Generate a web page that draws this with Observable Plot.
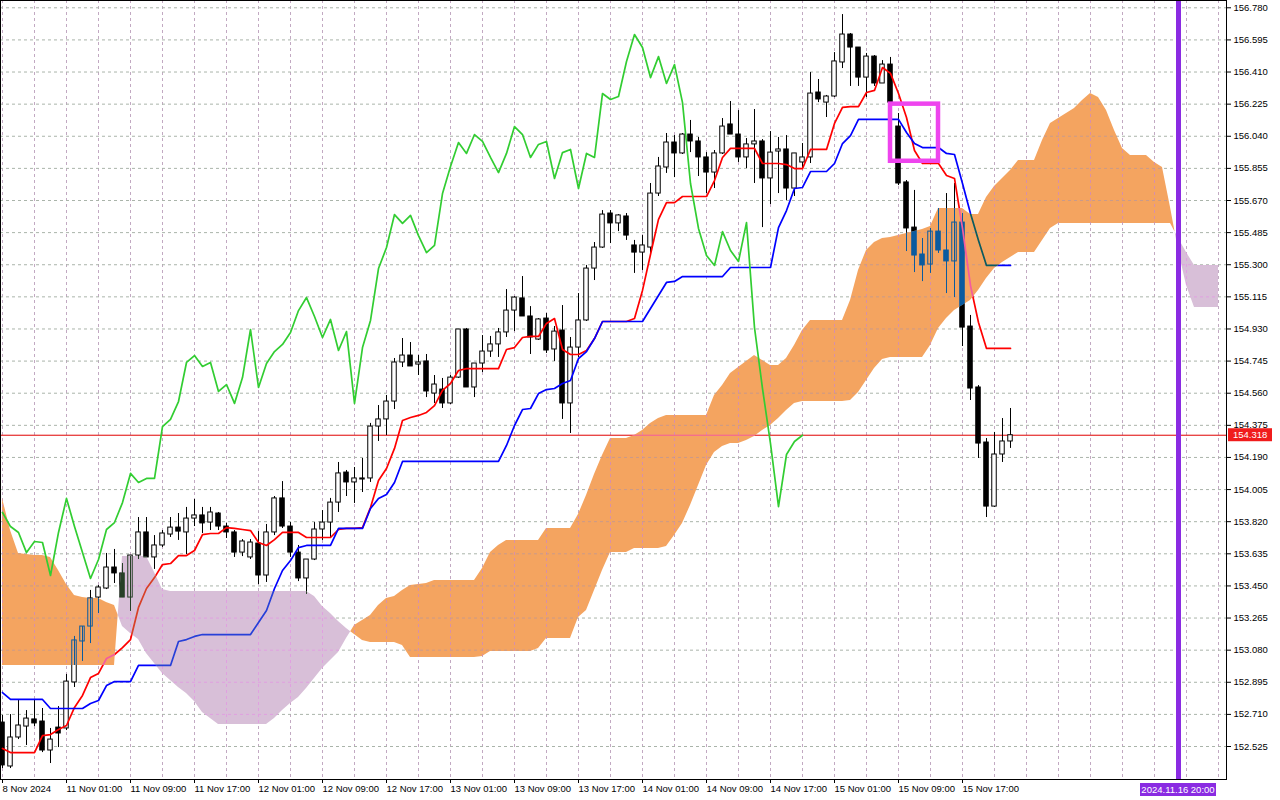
<!DOCTYPE html>
<html><head><meta charset="utf-8">
<script src="https://cdn.jsdelivr.net/npm/d3@7"></script>
<script src="https://cdn.jsdelivr.net/npm/@observablehq/plot@0.6"></script>
<style>
html,body{margin:0;padding:0;background:#fff;}
#chart{width:1280px;height:800px;overflow:hidden;}
</style></head><body><div id="chart"></div>
<script>
// ---- Hourly candles, bar 0 = 8 Nov 2024 17:00 ----
const open=[152.663,152.410,152.577,152.640,152.681,152.669,152.502,152.634,152.629,152.894,
153.130,153.216,153.383,153.435,153.556,153.522,153.383,153.625,153.758,153.614,
153.683,153.746,153.786,153.758,153.838,153.856,153.815,153.867,153.792,153.758,
153.642,153.614,153.694,153.510,153.758,153.954,153.792,153.642,153.493,153.602,
153.775,153.815,153.930,154.103,154.046,154.063,154.069,154.368,154.409,154.512,
154.737,154.777,154.725,154.743,154.558,154.581,154.501,154.650,154.927,154.593,
154.731,154.800,154.841,154.910,155.036,155.106,155.002,154.869,154.990,154.812,
154.921,154.501,154.823,154.979,155.278,155.399,155.595,155.538,155.578,155.411,
155.370,155.399,155.710,155.860,156.004,155.941,156.050,156.010,155.918,155.831,
155.941,156.108,156.050,155.918,155.993,156.010,155.797,155.952,155.964,155.739,
155.889,155.918,156.292,156.234,156.269,156.465,156.626,156.551,156.378,156.499,
156.344,156.453,156.096,155.774,155.514,155.359,155.301,155.491,155.382,155.319,
155.543,154.944,154.593,154.276,153.907,154.207,154.282];
const high=[152.704,152.709,152.790,152.732,152.790,152.744,152.629,152.755,152.940,153.159,
153.216,153.424,153.452,153.637,153.660,153.579,153.625,153.844,153.844,153.740,
153.769,153.844,153.867,153.902,153.948,153.902,153.902,153.873,153.810,153.769,
153.717,153.717,153.763,153.804,153.965,154.051,153.815,153.683,153.602,153.815,
153.884,153.954,154.161,154.115,154.132,154.184,154.386,154.489,154.547,154.760,
154.875,154.852,154.777,154.783,154.662,154.645,154.662,154.927,154.933,154.731,
154.892,154.887,154.933,155.157,155.117,155.232,155.059,154.990,155.019,154.944,
155.065,154.881,155.134,155.296,155.428,155.612,155.612,155.589,155.595,155.440,
155.468,155.768,155.918,156.056,156.044,156.056,156.131,156.033,155.946,155.958,
156.142,156.240,156.188,156.027,156.194,156.021,156.067,156.033,156.044,155.941,
155.998,156.407,156.367,156.275,156.522,156.741,156.632,156.551,156.517,156.505,
156.476,156.494,156.171,155.785,155.728,155.451,155.509,155.624,155.710,155.768,
155.595,155.008,154.604,154.299,154.334,154.414,154.472];
const low=[152.398,152.398,152.565,152.531,152.640,152.490,152.427,152.519,152.617,152.865,
153.015,153.118,153.291,153.429,153.464,153.383,153.303,153.602,153.614,153.545,
153.671,153.729,153.712,153.631,153.792,153.752,153.769,153.769,153.723,153.614,
153.619,153.602,153.458,153.470,153.740,153.781,153.614,153.475,153.401,153.596,
153.712,153.729,153.873,153.965,153.925,153.988,154.046,154.282,154.316,154.466,
154.708,154.714,154.662,154.535,154.501,154.472,154.495,154.645,154.593,154.535,
154.679,154.766,154.766,154.881,154.915,155.002,154.783,154.864,154.789,154.743,
154.409,154.328,154.766,154.973,155.209,155.394,155.422,155.491,155.440,155.250,
155.267,155.365,155.693,155.826,155.802,155.935,155.946,155.808,155.710,155.739,
155.935,156.050,155.889,155.854,155.768,155.514,155.647,155.710,155.670,155.693,
155.854,155.883,156.234,156.148,156.263,156.430,156.327,156.327,156.263,156.327,
156.344,156.234,155.756,155.376,155.255,155.203,155.250,155.365,155.134,155.111,
154.829,154.518,154.184,153.844,153.902,154.161,154.242];
const close=[152.416,152.577,152.646,152.686,152.658,152.502,152.565,152.600,152.899,153.136,
153.216,153.378,153.441,153.556,153.522,153.383,153.625,153.758,153.614,153.683,
153.752,153.786,153.763,153.838,153.856,153.810,153.873,153.792,153.758,153.642,
153.706,153.700,153.510,153.758,153.954,153.792,153.642,153.493,153.602,153.775,
153.815,153.930,154.098,154.046,154.069,154.069,154.368,154.409,154.512,154.737,
154.777,154.714,154.737,154.570,154.610,154.501,154.650,154.927,154.593,154.731,
154.800,154.841,154.910,155.036,155.111,155.002,154.881,154.985,154.806,154.915,
154.501,154.823,154.979,155.278,155.399,155.589,155.538,155.584,155.468,155.370,
155.411,155.710,155.866,156.004,155.941,156.050,156.010,155.918,155.831,155.941,
156.096,156.050,155.918,155.993,156.010,155.797,155.946,155.964,155.739,155.941,
155.918,156.286,156.252,156.269,156.471,156.626,156.551,156.378,156.499,156.344,
156.453,156.234,155.768,155.509,155.353,155.296,155.491,155.382,155.319,155.543,
154.938,154.587,154.270,153.907,154.207,154.282,154.318];

// ---- Ichimoku lines ----
const tenkan=[152.514,152.490,152.490,152.490,152.490,152.588,152.594,152.623,152.646,152.750,
152.819,152.922,152.946,153.032,153.055,153.095,153.141,153.326,153.435,153.498,
153.573,153.579,153.625,153.625,153.654,153.746,153.752,153.752,153.786,153.781,
153.775,153.769,153.700,153.683,153.717,153.758,153.758,153.758,153.729,153.729,
153.729,153.729,153.775,153.781,153.781,153.786,153.902,154.057,154.126,154.242,
154.403,154.420,154.432,154.449,154.489,154.576,154.616,154.691,154.702,154.702,
154.702,154.702,154.702,154.812,154.823,154.881,154.887,154.887,154.962,154.990,
154.812,154.783,154.783,154.806,154.875,154.973,154.973,154.973,154.973,154.990,
155.152,155.359,155.561,155.658,155.658,155.693,155.693,155.693,155.693,155.785,
155.918,155.970,155.970,155.970,155.970,155.883,155.883,155.883,155.877,155.854,
155.854,155.964,155.964,155.964,156.114,156.206,156.211,156.211,156.292,156.304,
156.436,156.402,156.286,156.148,155.958,155.883,155.883,155.883,155.814,155.797,
155.509,155.180,154.967,154.818,154.818,154.818,154.818];
const kijun=[152.836,152.796,152.796,152.796,152.796,152.796,152.744,152.744,152.744,152.744,
152.744,152.773,152.790,152.876,152.899,152.899,152.899,152.992,152.992,152.992,
152.992,152.992,153.130,153.141,153.159,153.170,153.170,153.170,153.170,153.170,
153.170,153.170,153.239,153.308,153.435,153.539,153.596,153.671,153.683,153.683,
153.683,153.683,153.781,153.781,153.781,153.781,153.896,153.954,153.977,154.046,
154.167,154.167,154.167,154.167,154.167,154.167,154.167,154.167,154.167,154.167,
154.167,154.167,154.167,154.259,154.374,154.466,154.472,154.558,154.581,154.587,
154.616,154.633,154.760,154.800,154.875,154.973,154.973,154.973,154.973,154.973,
154.973,155.048,155.123,155.198,155.204,155.232,155.232,155.232,155.232,155.232,
155.232,155.284,155.284,155.284,155.284,155.284,155.284,155.514,155.612,155.739,
155.745,155.837,155.837,155.837,155.883,155.998,156.044,156.137,156.137,156.137,
156.137,156.137,156.137,156.062,155.998,155.975,155.975,155.975,155.941,155.935,
155.768,155.595,155.440,155.296,155.296,155.296,155.296];
const chikou=[153.873,153.792,153.758,153.642,
153.706,153.700,153.510,153.758,153.954,153.792,153.642,153.493,153.602,153.775,
153.815,153.930,154.098,154.046,154.069,154.069,154.368,154.409,154.512,154.737,
154.777,154.714,154.737,154.570,154.610,154.501,154.650,154.927,154.593,154.731,
154.800,154.841,154.910,155.036,155.111,155.002,154.881,154.985,154.806,154.915,
154.501,154.823,154.979,155.278,155.399,155.589,155.538,155.584,155.468,155.370,
155.411,155.710,155.866,156.004,155.941,156.050,156.010,155.918,155.831,155.941,
156.096,156.050,155.918,155.993,156.010,155.797,155.946,155.964,155.739,155.941,
155.918,156.286,156.252,156.269,156.471,156.626,156.551,156.378,156.499,156.344,
156.453,156.234,155.768,155.509,155.353,155.296,155.491,155.382,155.319,155.543,
154.938,154.587,154.270,153.907,154.207,154.282,154.318];
const senkouA=[153.954,153.769,153.637,153.631,153.625,153.625,153.614,153.539,153.458,153.395,
153.383,153.378,153.378,153.354,153.337,153.216,153.176,153.141,153.061,153.003,
152.946,152.905,152.865,152.830,152.784,152.721,152.686,152.652,152.652,152.652,
152.652,152.652,152.652,152.652,152.686,152.732,152.773,152.807,152.859,152.917,
152.974,153.020,153.066,153.147,153.222,153.251,153.280,153.337,153.378,153.389,
153.424,153.452,153.458,153.464,153.481,153.481,153.481,153.481,153.481,153.481,
153.550,153.642,153.683,153.712,153.712,153.712,153.712,153.712,153.781,153.781,
153.781,153.781,153.861,153.971,154.092,154.201,154.299,154.299,154.299,154.316,
154.345,154.386,154.414,154.432,154.432,154.432,154.432,154.432,154.432,154.547,
154.604,154.674,154.708,154.743,154.777,154.748,154.720,154.720,154.760,154.835,
154.921,154.979,154.979,154.979,154.979,154.979,155.094,155.267,155.382,155.428,
155.451,155.457,155.468,155.480,155.491,155.503,155.520,155.624,155.624,155.624,
155.624,155.589,155.589,155.687,155.751,155.797,155.843,155.900,155.900,155.900,
156.016,156.114,156.142,156.171,156.200,156.246,156.286,156.263,156.188,156.073,
155.970,155.929,155.929,155.929,155.889,155.860,155.630,155.382,155.180,155.054,
155.054,155.054,155.054];
const senkouB=[152.992,152.992,152.992,152.992,152.992,152.992,152.992,152.992,152.992,152.992,
152.992,152.992,152.992,152.992,152.992,153.619,153.619,153.619,153.619,153.527,
153.429,153.418,153.418,153.418,153.418,153.418,153.418,153.418,153.418,153.418,
153.418,153.418,153.418,153.418,153.418,153.418,153.418,153.418,153.418,153.389,
153.331,153.291,153.245,153.205,153.170,153.136,153.124,153.124,153.124,153.124,
153.107,153.038,153.038,153.038,153.038,153.038,153.038,153.038,153.038,153.038,
153.043,153.072,153.072,153.072,153.072,153.072,153.072,153.090,153.147,153.147,
153.147,153.147,153.268,153.308,153.424,153.539,153.642,153.642,153.642,153.666,
153.666,153.666,153.666,153.677,153.740,153.810,153.913,154.028,154.144,154.218,
154.253,154.270,154.270,154.288,154.311,154.345,154.374,154.414,154.460,154.501,
154.512,154.512,154.512,154.512,154.512,154.512,154.518,154.564,154.633,154.702,
154.754,154.766,154.766,154.766,154.766,154.766,154.835,154.933,154.990,155.036,
155.065,155.094,155.152,155.221,155.278,155.313,155.342,155.370,155.370,155.370,
155.440,155.509,155.538,155.538,155.538,155.538,155.538,155.538,155.538,155.538,
155.538,155.538,155.538,155.538,155.538,155.538,155.538,155.451,155.370,155.296,
155.296,155.296,155.296];

// ---- axes / annotations ----
const priceTicks=[152.525,152.710,152.895,153.080,153.265,153.450,153.635,153.820,154.005,154.190,
154.375,154.560,154.745,154.930,155.115,155.300,155.485,155.670,155.855,156.040,156.225,156.410,156.595,156.780];
const timeTickBars=[0,8,16,24,32,40,48,56,64,72,80,88,96,104,112,120];
const timeLabels=["8 Nov 2024","11 Nov 01:00","11 Nov 09:00","11 Nov 17:00","12 Nov 01:00","12 Nov 09:00",
"12 Nov 17:00","13 Nov 01:00","13 Nov 09:00","13 Nov 17:00","14 Nov 01:00","14 Nov 09:00","14 Nov 17:00",
"15 Nov 01:00","15 Nov 09:00","15 Nov 17:00"];
const gridBars=[0,4,8,12,16,20,24,28,32,36,40,44,48,52,56,60,64,68,72,76,80,84,88,92,96,100,104,108,112,116,120,124,128,132,136,140,144,148,152];
const lastPrice=[154.318];
const futureMarkerBar=[147];
const futureMarkerLabel="2024.11.16 20:00";
const highlightBox=[{b1:111,b2:117,p1:155.896,p2:156.225}];

// ---- build ----
const candles=open.map((o,k)=>({k,o,h:high[k],l:low[k],c:close[k]}));
const bull=candles.filter(d=>d.c>=d.o), bear=candles.filter(d=>d.c<d.o);
const tk=tenkan.map((v,k)=>({k,v})), kj=kijun.map((v,k)=>({k,v})), ch=chikou.map((v,k)=>({k,v}));

function cloud(orange){
  const pts=[]; let seg=0, run=false; const n=senkouA.length;
  for(let k=0;k<n;k++){
    const a=senkouA[k], b=senkouB[k], d=a-b; const ok=orange?d>=0:d<0;
    if(ok){pts.push({k,y1:Math.min(a,b),y2:Math.max(a,b),seg}); run=true;}
    if(k<n-1){
      const d2=senkouA[k+1]-senkouB[k+1];
      if((d>=0)!==(d2>=0)){
        const t=d/(d-d2), kc=k+t, yc=a+t*(senkouA[k+1]-a);
        pts.push({k:kc,y1:yc,y2:yc,seg});
        if(run){seg++; run=false;} else run=true;
      }
    }
  }
  return pts;
}
const orangePts=cloud(true), thistlePts=cloud(false);

// tags (tiny unique opacities) to find mark groups after rendering
const TAG_CO=0.9991, TAG_CT=0.9993, TAG_OO=0.9992, TAG_OT=0.9994;

// candle + line layer in a given colour set (normal, or as it shows through the cloud)
function layer(col,tagv){
  const o=tagv?{strokeOpacity:tagv}:{};
  return [
    Plot.ruleX(candles,{x:"k",y1:"l",y2:"h",stroke:col.ink,strokeWidth:1,...o}),
    Plot.rect(bear,{x1:d=>d.k-0.28,x2:d=>d.k+0.28,y1:"o",y2:"c",fill:col.ink,stroke:col.ink,strokeWidth:1,...o}),
    Plot.rect(bull,{x1:d=>d.k-0.28,x2:d=>d.k+0.28,y1:"o",y2:"c",fill:col.paper,stroke:col.ink,strokeWidth:1,...o}),
    Plot.line(tk,{x:"k",y:"v",stroke:col.red,strokeWidth:1.7,...o}),
    Plot.line(kj,{x:"k",y:"v",stroke:col.blue,strokeWidth:1.7,...o})
  ];
}
const font="'Liberation Sans', Arial, sans-serif";
const hasAxis=typeof Plot.axisX==="function";
const marks=[
  Plot.frame({fill:"white"}),
  Plot.ruleX(gridBars,{stroke:"#c2a9c2",strokeWidth:1,strokeDasharray:"3,3"}),
  Plot.ruleY(priceTicks,{stroke:"#aab4aa",strokeWidth:1,strokeDasharray:"3,3"}),
  Plot.ruleY(lastPrice,{stroke:"#e00000",strokeWidth:1}),
  ...layer({ink:"black",paper:"white",red:"#ff0000",blue:"#0000ff"},null),
  Plot.area(orangePts,{x1:"k",y1:"y1",y2:"y2",z:"seg",fill:"#f4a460",fillOpacity:TAG_CO}),
  Plot.area(thistlePts,{x1:"k",y1:"y1",y2:"y2",z:"seg",fill:"#d8bfd8",fillOpacity:TAG_CT}),
  Plot.ruleX(gridBars,{stroke:"#d890a8",strokeWidth:1,strokeDasharray:"3,3",strokeOpacity:TAG_OO}),
  Plot.ruleY(priceTicks,{stroke:"#c99a8a",strokeWidth:1,strokeDasharray:"3,3",strokeOpacity:TAG_OO}),
  Plot.ruleY(lastPrice,{stroke:"#f45b9f",strokeWidth:1,strokeOpacity:TAG_OO}),
  ...layer({ink:"#0b5b9f",paper:"none",red:"#f45b9f",blue:"#0b5b60"},TAG_OO),
  Plot.ruleX(gridBars,{stroke:"#e0a0e0",strokeWidth:1,strokeDasharray:"3,3",strokeOpacity:TAG_OT}),
  Plot.ruleY(priceTicks,{stroke:"#e0a0e0",strokeWidth:1,strokeDasharray:"3,3",strokeOpacity:TAG_OT}),
  ...layer({ink:"#274027",paper:"none",red:"#d84027",blue:"#2740d8"},TAG_OT),
  Plot.line(ch,{x:"k",y:"v",stroke:"#32cd32",strokeWidth:1.7}),
  Plot.rect(highlightBox,{x1:"b1",x2:"b2",y1:"p1",y2:"p2",fill:"none",stroke:"#ee44ee",strokeWidth:4.5}),
  Plot.ruleX(futureMarkerBar,{stroke:"#8a2be2",strokeWidth:5}),
  Plot.frame({stroke:"black",strokeWidth:1})
];
if(hasAxis){
  marks.push(Plot.axisY(priceTicks,{anchor:"right",tickSize:4,tickPadding:3,tickFormat:d3.format(".3f"),label:null,fontSize:9.5,textAnchor:"start"}));
  marks.push(Plot.axisX(timeTickBars,{anchor:"bottom",tickSize:4,tickPadding:2,tickFormat:d=>timeLabels[timeTickBars.indexOf(d)],label:null,fontSize:9.5,textAnchor:"start"}));
}
const chart=Plot.plot({
  width:1280,height:800,marginLeft:0,marginRight:54,marginTop:0,marginBottom:21,
  x:Object.assign({type:"linear",domain:[-0.25,153]}, hasAxis?{}:{ticks:timeTickBars,tickFormat:d=>timeLabels[timeTickBars.indexOf(d)],tickSize:4,label:null}),
  y:Object.assign({type:"linear",domain:[152.335,156.822]}, hasAxis?{}:{axis:"right",ticks:priceTicks,tickFormat:d3.format(".3f"),tickSize:4,label:null}),
  style:{fontFamily:font,fontSize:"9.5px",background:"white",color:"black",overflow:"visible"},
  marks
});
document.getElementById("chart").appendChild(chart);

// clip the "seen through the cloud" layers to the cloud shapes
const NS="http://www.w3.org/2000/svg";
const defs=document.createElementNS(NS,"defs"); chart.insertBefore(defs,chart.firstChild);
function clipTo(cloudTag,ovTag,id){
  const cp=document.createElementNS(NS,"clipPath"); cp.setAttribute("id",id); defs.appendChild(cp);
  const clouds=[...chart.querySelectorAll("g")].filter(g=>g.getAttribute("fill-opacity")===String(cloudTag));
  clouds.forEach(g=>{
    g.removeAttribute("fill-opacity");
    const tr=g.getAttribute("transform");
    g.querySelectorAll("path").forEach(p=>{const c=p.cloneNode(false); c.removeAttribute("fill-opacity"); if(tr)c.setAttribute("transform",tr); cp.appendChild(c);});
  });
  const ovs=[...chart.querySelectorAll("g")].filter(g=>g.getAttribute("stroke-opacity")===String(ovTag));
  if(!ovs.length) return;
  const wrap=document.createElementNS(NS,"g"); wrap.setAttribute("clip-path",`url(#${id})`);
  ovs[0].parentNode.insertBefore(wrap,ovs[0]);
  ovs.forEach(g=>{g.removeAttribute("stroke-opacity"); wrap.appendChild(g);});
}
clipTo(TAG_CO,TAG_OO,"clipOrange");
clipTo(TAG_CT,TAG_OT,"clipThistle");

// price tag and future-time tag
const ys=chart.scale("y"), xs=chart.scale("x");
const lin=(s,v)=>s.range[0]+(v-s.domain[0])/(s.domain[1]-s.domain[0])*(s.range[1]-s.range[0]);
const Y=v=>ys.apply?ys.apply(v):lin(ys,v);
const X=v=>xs.apply?xs.apply(v):lin(xs,v);
const svg=d3.select(chart);
const py=Y(lastPrice[0]), right=X(153);
const tag=svg.append("g");
tag.append("rect").attr("x",right+2).attr("y",py-6.5).attr("width",44).attr("height",13).attr("fill","#f01c1c");
tag.append("text").attr("x",right+7).attr("y",py).attr("dy","0.35em").attr("text-anchor","start").attr("fill","white")
  .style("font-family",font).style("font-size","9.5px").text(lastPrice[0].toFixed(3));
const fx=X(futureMarkerBar[0]);
const ft=svg.append("g");
ft.append("rect").attr("x",fx-38).attr("y",783).attr("width",76).attr("height",13).attr("fill","#8a2be2");
ft.append("text").attr("x",fx).attr("y",789.5).attr("dy","0.35em").attr("text-anchor","middle").attr("fill","white")
  .style("font-family",font).style("font-size","9.5px").text(futureMarkerLabel);
</script></body></html>
